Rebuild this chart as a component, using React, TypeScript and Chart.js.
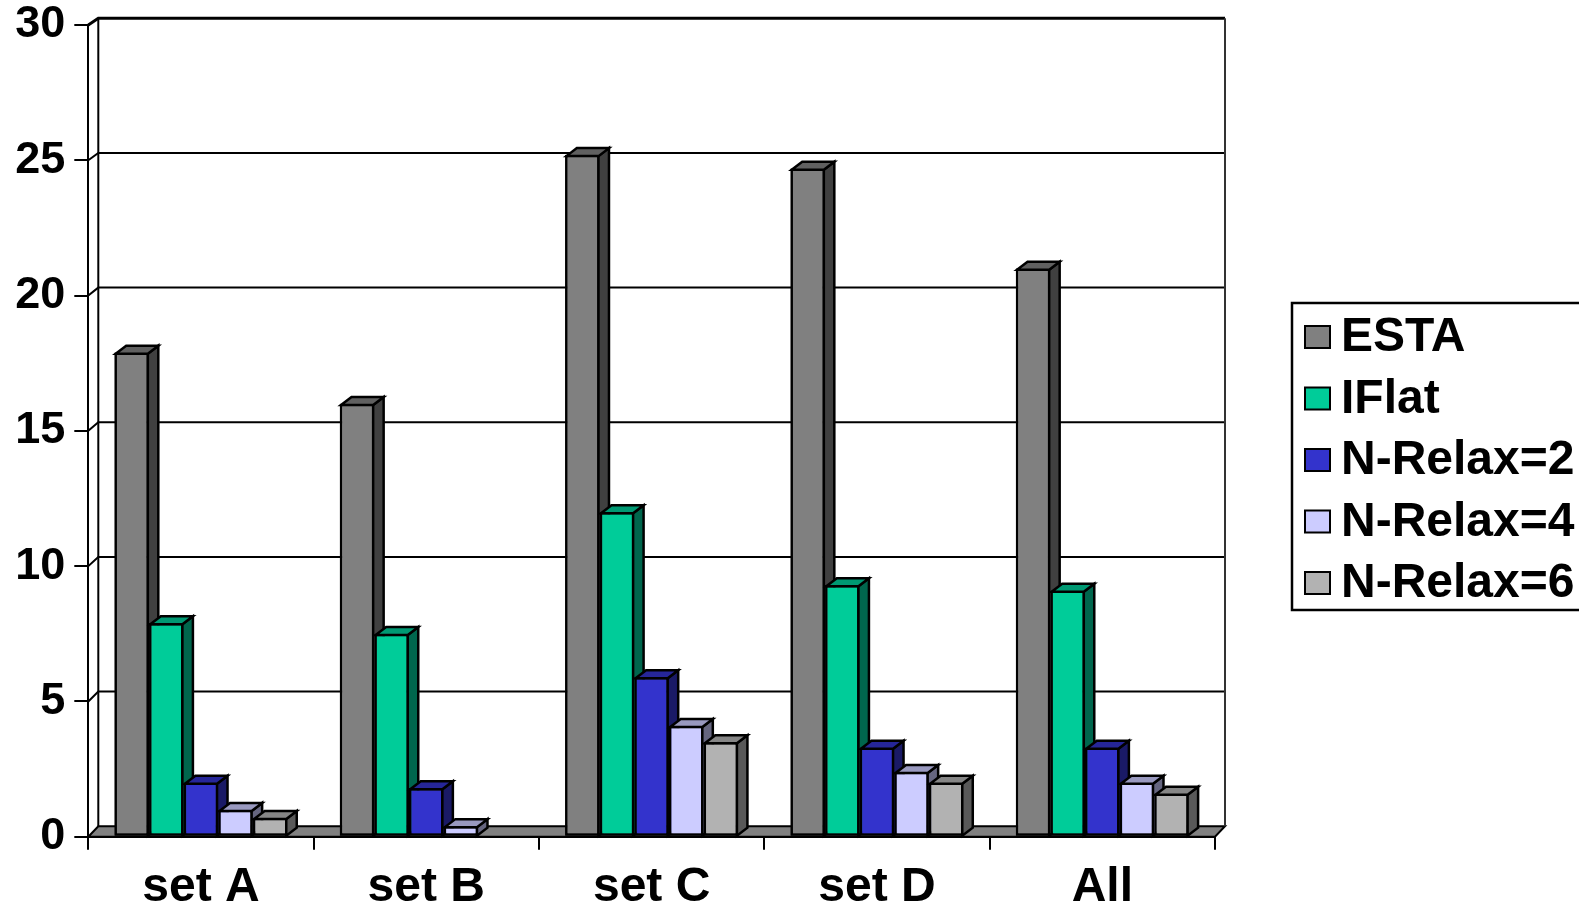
import { useEffect, useRef } from "react";
import { Chart, registerables } from "chart.js";

Chart.register(...registerables);

// ---- data ----
const categories = ["set A", "set B", "set C", "set D", "All"];
const seriesNames = ["ESTA", "IFlat", "N-Relax=2", "N-Relax=4", "N-Relax=6"];
const esta = [17.9, 16.0, 25.2, 24.7, 21.0];
const iflat = [7.9, 7.5, 12.0, 9.3, 9.1];
const nRelax2 = [2.0, 1.8, 5.9, 3.3, 3.3];
const nRelax4 = [1.0, 0.4, 4.1, 2.4, 2.0];
const nRelax6 = [0.7, 0.0, 3.5, 2.0, 1.6];
const yTickValues = [0, 5, 10, 15, 20, 25, 30];

const seriesData = [esta, iflat, nRelax2, nRelax4, nRelax6];
const seriesColors = ["#808080", "#00CC99", "#3333CC", "#CCCCFF", "#B2B2B2"];

// ---- styling / layout constants ----
const FONT = '"Liberation Sans", Arial, Helvetica, sans-serif';
const WALL_DX = 10;
const WALL_DY_BOTTOM = 10.5;
const WALL_DY_TOP = 6.7;
const BAR_DX = 10.5;
const BAR_DY = 8;

const shade = (hex: string, f: number) => {
  const n = parseInt(hex.slice(1), 16);
  const r = Math.round(((n >> 16) & 255) * f);
  const g = Math.round(((n >> 8) & 255) * f);
  const b = Math.round((n & 255) * f);
  return `rgb(${r},${g},${b})`;
};

const poly = (ctx: CanvasRenderingContext2D, pts: number[][], fill: string | null, stroke: string | null, lw = 2) => {
  ctx.beginPath();
  ctx.moveTo(pts[0][0], pts[0][1]);
  for (let i = 1; i < pts.length; i++) ctx.lineTo(pts[i][0], pts[i][1]);
  ctx.closePath();
  if (fill) {
    ctx.fillStyle = fill;
    ctx.fill();
  }
  if (stroke) {
    ctx.lineWidth = lw;
    ctx.strokeStyle = stroke;
    ctx.stroke();
  }
};

const threeD = {
  id: "threeD",
  beforeDatasetsDraw(chart: any) {
    const { ctx, chartArea } = chart;
    const { left, right, top, bottom } = chartArea;
    const y = chart.scales.y;
    const backY = (v: number) => {
      const yf = y.getPixelForValue(v);
      const t = (bottom - yf) / (bottom - top);
      return yf - (WALL_DY_BOTTOM + (WALL_DY_TOP - WALL_DY_BOTTOM) * t);
    };
    const bl = left + WALL_DX;
    const br = right + WALL_DX;
    const bt = backY(30);
    const bb = backY(0);
    ctx.save();
    ctx.lineJoin = "miter";
    ctx.fillStyle = "#ffffff";
    ctx.fillRect(bl, bt, br - bl, bb - bt);
    poly(ctx, [[left, bottom], [bl, bb], [br, bb], [right, bottom]], "#808080", "#000", 2);
    ctx.strokeStyle = "#000";
    yTickValues.forEach((v) => {
      if (v === 0) return;
      const yf = y.getPixelForValue(v);
      const yb = backY(v);
      ctx.lineWidth = v === 30 ? 3 : 2;
      ctx.beginPath();
      ctx.moveTo(left, yf);
      ctx.lineTo(bl, yb);
      ctx.lineTo(br, yb);
      ctx.stroke();
    });
    ctx.lineWidth = 2;
    ctx.beginPath();
    ctx.moveTo(bl, bt);
    ctx.lineTo(bl, bb);
    ctx.stroke();
    ctx.strokeStyle = "#333";
    ctx.beginPath();
    ctx.moveTo(br, bt);
    ctx.lineTo(br, bb);
    ctx.stroke();
    ctx.restore();
  },
  afterDatasetsDraw(chart: any) {
    const { ctx } = chart;
    ctx.save();
    ctx.lineJoin = "miter";
    // draw series in order ESTA -> N-Relax=6 so each bar's front face covers the previous bar's side
    for (let i = 0; i < chart.data.datasets.length; i++) {
      const meta = chart.getDatasetMeta(i);
      const color = seriesColors[i];
      const topColor = shade(color, 0.75);
      const sideColor = shade(color, 0.5);
      meta.data.forEach((bar: any) => {
        const { x, y, base, width } = bar;
        if (Math.abs(base - y) < 0.5) return;
        bar.draw(ctx, chart.chartArea);
        const l = x - width / 2 + 1.25;
        const r = x + width / 2 - 1.25;
        const t = y + 1.25;
        const b = base;
        poly(ctx, [[r, t], [r + BAR_DX, t - BAR_DY], [r + BAR_DX, b - BAR_DY], [r, b]], sideColor, "#000", 2.5);
        poly(ctx, [[l, t], [l + BAR_DX, t - BAR_DY], [r + BAR_DX, t - BAR_DY], [r, t]], topColor, "#000", 2.5);
      });
    }
    ctx.restore();
  },
  afterDraw(chart: any) {
    const { ctx } = chart;
    ctx.save();
    ctx.lineWidth = 2.5;
    ctx.strokeStyle = "#000";
    ctx.strokeRect(1292, 303, 400, 307);
    ctx.font = `bold 48px ${FONT}`;
    ctx.textBaseline = "middle";
    ctx.textAlign = "left";
    seriesNames.forEach((name, i) => {
      const cy = 337 + i * 61.5;
      ctx.fillStyle = seriesColors[i];
      ctx.fillRect(1305, cy - 11, 25, 22);
      ctx.lineWidth = 2;
      ctx.strokeStyle = "#000";
      ctx.strokeRect(1305, cy - 11, 25, 22);
      ctx.fillStyle = "#000";
      ctx.fillText(name, 1341, cy + 1);
    });
    ctx.restore();
  },
};

export default function App() {
  const ref = useRef<HTMLCanvasElement>(null);
  useEffect(() => {
    const canvas = ref.current;
    if (!canvas) return;
    const chart = new Chart(canvas, {
      type: "bar",
      data: {
        labels: categories,
        datasets: seriesData.map((d, i) => ({
          label: seriesNames[i],
          data: d,
          backgroundColor: seriesColors[i],
          borderColor: "#000",
          borderWidth: 2.5,
          borderSkipped: false,
          categoryPercentage: 0.768,
          barPercentage: 1,
        })),
      },
      options: {
        responsive: false,
        animation: false,
        devicePixelRatio: 1,
        layout: { padding: { left: 0, top: 25, right: 364, bottom: 0 } },
        plugins: { legend: { display: false }, tooltip: { enabled: false } },
        scales: {
          x: {
            grid: { drawOnChartArea: false, drawTicks: true, tickLength: 13, color: "#000", lineWidth: 2, offset: true },
            border: { display: true, color: "#000", width: 2 },
            ticks: {
              color: "#000",
              font: { family: FONT, size: 48, weight: "bold", lineHeight: 1.2 },
              padding: 9,
              maxRotation: 0,
              autoSkip: false,
            },
            afterFit: (s: any) => {
              s.height = 73.3;
            },
          },
          y: {
            min: 0,
            max: 30,
            ticks: {
              stepSize: 5,
              color: "#000",
              font: { family: FONT, size: 45, weight: "bold", lineHeight: 0.5 },
              padding: 9,
            },
            grid: { drawOnChartArea: false, drawTicks: true, tickLength: 14, color: "#000", lineWidth: 2 },
            border: { display: true, color: "#000", width: 2 },
            afterFit: (s: any) => {
              s.width = 88.3;
            },
          },
        },
      } as any,
      plugins: [threeD],
    });
    return () => chart.destroy();
  }, []);
  return (
    <canvas
      ref={ref}
      width={1579}
      height={910}
      style={{ position: "absolute", left: 0, top: 0, width: "1579px", height: "910px" }}
    />
  );
}
